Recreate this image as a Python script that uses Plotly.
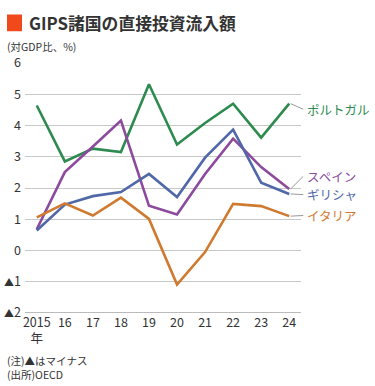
import plotly.graph_objects as go

years = [2015, 2016, 2017, 2018, 2019, 2020, 2021, 2022, 2023, 2024]
x_tick_labels = ["2015<br>年", "16", "17", "18", "19", "20", "21", "22", "23", "24"]
y_tick_vals = [-2, -1, 0, 1, 2, 3, 4, 5, 6]
y_tick_labels = ['<span style="font-size:10px">▲</span>2', '<span style="font-size:10px">▲</span>1',
                 "0", "1", "2", "3", "4", "5", "6"]

portugal = [4.64, 2.85, 3.26, 3.15, 5.32, 3.39, 4.08, 4.70, 3.61, 4.70]
spain = [0.68, 2.51, 3.33, 4.16, 1.43, 1.15, 2.45, 3.58, 2.67, 1.97]
greece = [0.64, 1.47, 1.74, 1.87, 2.45, 1.71, 2.97, 3.87, 2.17, 1.81]
italy = [1.06, 1.51, 1.12, 1.69, 1.01, -1.09, -0.05, 1.49, 1.42, 1.10]

series = [
    ("ポルトガル", portugal, "#2e8b50", 4.52),
    ("スペイン", spain, "#8b4a9c", 2.37),
    ("ギリシャ", greece, "#5068a8", 1.79),
    ("イタリア", italy, "#d07a30", 1.12),
]

FONT = "Noto Sans CJK JP"
X_RANGE = [2014.58, 2024.42]
Y_RANGE = [-2, 6]


def px(xv):
    return (xv - X_RANGE[0]) / (X_RANGE[1] - X_RANGE[0])


def py(yv):
    return (yv - Y_RANGE[0]) / (Y_RANGE[1] - Y_RANGE[0])


fig = go.Figure()

for name, vals, color, label_y in series:
    fig.add_trace(go.Scatter(x=years, y=vals, mode="lines", name=name,
                             line=dict(color=color, width=2.6), showlegend=False))

# leader lines and labels
for name, vals, color, label_y in series:
    fig.add_shape(type="line", xref="paper", yref="paper",
                  x0=px(years[-1] + 0.05), y0=py(vals[-1]), x1=px(years[-1] + 0.5), y1=py(label_y),
                  line=dict(color="#999999", width=1))
    fig.add_annotation(x=px(years[-1] + 0.55), y=py(label_y), xref="paper", yref="paper", text=name,
                       showarrow=False, xanchor="left", yanchor="middle",
                       font=dict(family=FONT, size=12.5, color=color))

# title square
fig.add_shape(type="rect", xref="paper", yref="paper", x0=-0.0652, x1=-0.0109, y0=1.127, y1=1.194,
              fillcolor="#f04a1c", line=dict(width=0))
fig.add_annotation(x=0.007, y=1.161, xref="paper", yref="paper", text="<b>GIPS諸国の直接投資流入額</b>",
                   showarrow=False, xanchor="left", yanchor="middle",
                   font=dict(family=FONT, size=16.8, color="#333333"))
fig.add_annotation(x=-0.0725, y=1.064, xref="paper", yref="paper", text="(対GDP比、%)",
                   showarrow=False, xanchor="left", yanchor="middle",
                   font=dict(family=FONT, size=10.5, color="#333333"))
fig.add_annotation(x=-0.0725, y=-0.19, xref="paper", yref="paper", text="(注)▲はマイナス",
                   showarrow=False, xanchor="left", yanchor="middle",
                   font=dict(family=FONT, size=10.5, color="#333333"))
fig.add_annotation(x=-0.0725, y=-0.245, xref="paper", yref="paper", text="(出所)OECD",
                   showarrow=False, xanchor="left", yanchor="middle",
                   font=dict(family=FONT, size=10.5, color="#333333"))

# emphasised zero and bottom lines
for yv in [0, -2]:
    fig.add_shape(type="line", xref="paper", yref="y", x0=0, x1=1, y0=yv, y1=yv,
                  line=dict(color="#777777", width=1), layer="below")

fig.update_xaxes(range=X_RANGE, tickvals=years, ticktext=x_tick_labels,
                 showgrid=False, zeroline=False, showline=False, ticks="", automargin=False,
                 tickfont=dict(family=FONT, size=12.5, color="#333333"))
fig.update_yaxes(range=Y_RANGE, tickvals=y_tick_vals, ticktext=y_tick_labels,
                 showgrid=True, gridcolor="#c8c8c8", gridwidth=1, zeroline=False,
                 showline=False, ticks="", ticklabelstandoff=3, automargin=False,
                 tickfont=dict(family=FONT, size=12.5, color="#333333"))

fig.update_layout(width=375, height=386, margin=dict(l=25, r=74, t=63, b=73),
                  plot_bgcolor="white", paper_bgcolor="white",
                  font=dict(family=FONT))

fig.write_html("out.html", config={"displayModeBar": False},
               post_script="document.body.style.margin='0';document.body.style.overflow='hidden';")
